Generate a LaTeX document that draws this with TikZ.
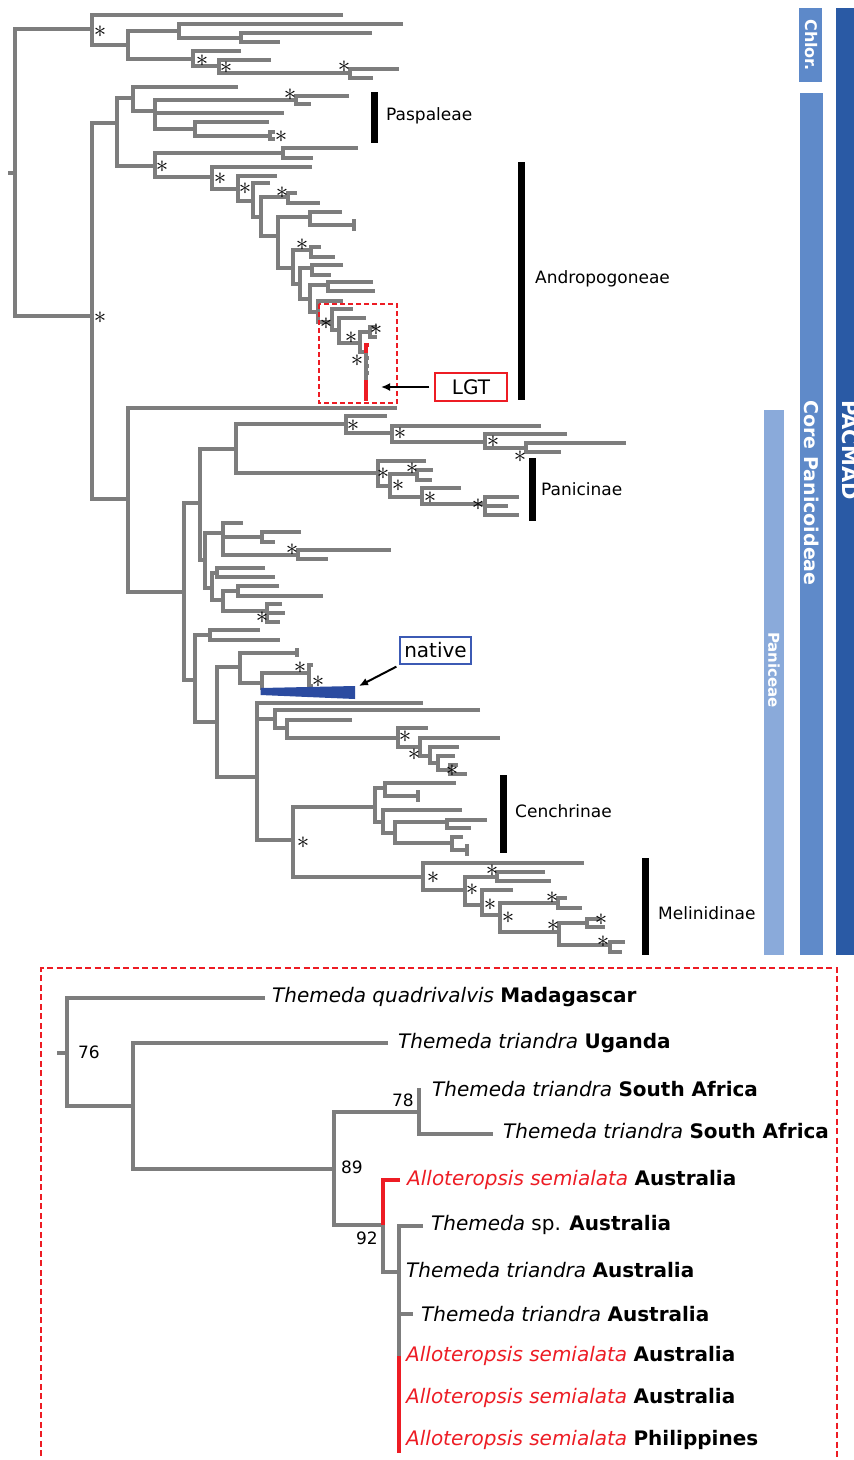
\documentclass[tikz,border=0pt]{standalone}
\usepackage{fontspec}
\setmainfont{DejaVu Sans}
\usetikzlibrary{arrows.meta}
\definecolor{treegray}{RGB}{125,125,125}
\definecolor{redc}{RGB}{237,28,36}
\definecolor{nativeblue}{RGB}{43,75,160}
\definecolor{boxblue}{RGB}{60,90,180}
\definecolor{chlorc}{RGB}{93,137,201}
\definecolor{corec}{RGB}{95,138,201}
\definecolor{panc}{RGB}{138,170,218}
\definecolor{pacc}{RGB}{42,90,165}
\newcounter{stc}
\newcommand\clade[5]{\draw[tree] (#3,#2) -- (#1,#2) -- (#1,#4) -- (#5,#4);}
\newcommand\tipb[3]{\draw[tree] (#1,#2) -- (#3,#2);}
\newcommand\st[2]{\stepcounter{stc}\node[ast] (st\arabic{stc}) at (#1,#2) {$\ast$};}
\newcommand\fs[1]{\fontsize{#1}{#1}\selectfont}
\tikzset{
  tree/.style={draw=treegray, line width=3.7pt, line join=miter, line cap=butt},
  treeb/.style={draw=treegray, line width=3.1pt, line join=miter, line cap=butt},
  redb/.style={draw=redc, line width=3.1pt, line join=miter, line cap=butt},
  ast/.style={inner sep=0pt, font=\fs{25}},
  clbar/.style={draw=black, line width=7pt},
  cllab/.style={anchor=west, inner sep=0pt, font=\fs{17}},
  sidebar/.style={inner sep=0pt, text=white, font=\bfseries, rotate=-90},
  taxon/.style={anchor=west, inner sep=0pt, font=\fs{20}},
  supp/.style={inner sep=0pt, font=\fs{17}},
  arr/.style={draw=black, line width=2pt, -{Latex[length=9pt,width=8pt]}},
}
\begin{document}
\begin{tikzpicture}[x=1pt,y=-1pt]
\useasboundingbox (0,0) rectangle (854,1460);
\clip (0,0) rectangle (854,1460);
% ---------------- upper tree ----------------
\tipb{8}{173}{15}
\clade{15}{29}{92}{316}{92}
% Chloridoideae
\clade{92}{15}{343}{45}{128}
\clade{128}{31}{179}{59}{193}
\clade{179}{24}{403}{38}{241}
\clade{241}{33}{372}{42}{280}
\clade{193}{51}{241}{66}{219}
\clade{219}{60}{271}{73}{350}
\clade{350}{69}{399}{78}{373}
\st{100}{32}\st{202}{61}\st{226}{68}\st{344}{67}
% Core Panicoideae
\clade{92}{123}{117}{499}{128}
\st{100}{318}
\clade{117}{98}{133}{166}{155}
% Paspaleae
\clade{133}{87}{238}{111}{155}
\clade{155}{100}{296}{129}{195}
\tipb{155}{113}{284}
\clade{296}{96}{349}{104}{311}
\clade{195}{122}{269}{136}{270}
\clade{270}{132}{275}{139}{275}
\st{290}{95}\st{281}{137}
% Andropogoneae
\clade{155}{153}{283}{177}{212}
\clade{283}{148}{358}{158}{313}
\clade{212}{167}{312}{189}{238}
\clade{238}{176}{277}{201}{253}
\clade{253}{183}{270}{217}{261}
\clade{261}{197}{288}{236}{278}
\clade{288}{193}{297}{203}{320}
\clade{278}{217}{310}{268}{293}
\clade{310}{212}{342}{225}{354}
\draw[tree] (354,219) -- (354,231);
\clade{293}{250}{311}{284}{300}
\clade{311}{247}{321}{257}{335}
\clade{300}{268}{312}{299}{310}
\clade{312}{265}{343}{275}{331}
\clade{310}{285}{328}{312}{318}
\clade{328}{282}{373}{291}{375}
\clade{318}{301}{343}{322}{332}
\clade{332}{309}{353}{330}{339}
\clade{339}{318}{366}{343}{360}
\clade{360}{332}{370}{352}{366}
\clade{370}{327}{377}{337}{377}
\draw[tree] (366,352) -- (366,380);
\draw[tree] (366,358) -- (369,358);
\draw[tree] (366,366) -- (369,366);
\draw[tree] (366,373) -- (369,373);
\draw[redb,line width=3.7pt] (366,380) -- (366,401);
\draw[redb,line width=3.7pt] (369,345) -- (366,345) -- (366,353);
\st{162}{167}\st{220}{179}\st{245}{189}\st{282}{193}\st{302}{245}
\st{326}{324}\st{351}{338}\st{376}{330}\st{357}{361}
\draw[redc, line width=1.4pt, dash pattern=on 5pt off 3pt] (319,304) rectangle (397,403);
% Paniceae
\clade{128}{408}{397}{592}{184}
\clade{184}{503}{200}{680}{195}
\clade{200}{449}{236}{560}{205}
% Panicinae
\clade{236}{424}{346}{473}{378}
\clade{346}{416}{387}{433}{392}
\clade{392}{426}{541}{442}{485}
\clade{485}{434}{567}{448}{526}
\clade{526}{443}{626}{452}{561}
\clade{378}{461}{426}{486}{390}
\clade{390}{474}{417}{497}{422}
\clade{417}{470}{433}{480}{432}
\clade{422}{488}{461}{504}{485}
\clade{485}{497}{519}{515}{519}
\tipb{485}{506}{508}
\st{353}{426}\st{400}{434}\st{493}{442}\st{520}{457}\st{383}{474}
\st{412}{469}\st{398}{486}\st{430}{498}\st{478}{505}
% next group
\clade{205}{533}{223}{588}{212}
\clade{223}{523}{243}{555}{298}
\tipb{223}{537}{262}
\clade{262}{532}{301}{542}{275}
\clade{298}{550}{391}{559}{328}
\clade{212}{573}{217}{600}{223}
\clade{217}{568}{265}{577}{275}
\clade{223}{591}{238}{611}{267}
\clade{238}{586}{279}{596}{323}
\clade{267}{604}{282}{622}{280}
\tipb{267}{613}{285}
\st{292}{550}\st{262}{618}
% native group
\clade{195}{635}{210}{722}{217}
\clade{210}{630}{260}{640}{280}
\clade{217}{667}{240}{777}{257}
\clade{240}{653}{297}{683}{262}
\draw[tree] (297,648) -- (297,657);
\draw[tree] (309,673) -- (262,673) -- (262,690);
\draw[tree] (313,665) -- (309,665) -- (309,686) -- (313,686);
\fill[nativeblue] (260.5,688) -- (355,686) -- (355,699) -- (260.5,695) -- cycle;
\st{300}{668}\st{318}{682}
% lower Paniceae
\clade{257}{703}{423}{840}{293}
\tipb{257}{719}{275}
\clade{275}{710}{480}{728}{287}
\clade{287}{720}{352}{738}{398}
\clade{398}{728}{428}{747}{420}
\clade{420}{738}{500}{756}{430}
\clade{430}{747}{459}{763}{438}
\clade{438}{756}{455}{770}{450}
\clade{450}{765}{458}{774}{467}
\st{405}{737}\st{414}{755}\st{452}{771}
\clade{293}{807}{375}{877}{423}
\st{303}{843}
% Cenchrinae
\clade{375}{788}{385}{822}{383}
\clade{385}{783}{456}{796}{418}
\draw[tree] (418,790) -- (418,802);
\clade{383}{810}{462}{833}{395}
\clade{395}{822}{447}{843}{452}
\clade{447}{820}{487}{828}{471}
\clade{452}{837}{463}{850}{467}
\draw[tree] (467,844) -- (467,856);
% Melinidinae
\clade{423}{863}{584}{890}{465}
\clade{465}{877}{497}{905}{482}
\clade{497}{872}{545}{881}{551}
\clade{482}{890}{513}{915}{500}
\clade{500}{903}{558}{932}{559}
\clade{558}{898}{567}{908}{582}
\clade{559}{923}{587}{945}{610}
\clade{587}{919}{600}{927}{605}
\clade{610}{942}{625}{952}{622}
\st{433}{878}\st{492}{871}\st{472}{890}\st{490}{905}\st{508}{918}
\st{552}{898}\st{553}{926}\st{601}{920}\st{603}{942}
% clade bars
\draw[clbar] (374,92) -- (374,143);
\node[cllab] (lpas) at (386,116) {Paspaleae};
\draw[clbar] (521,162) -- (521,400);
\node[cllab] (land) at (535,279) {Andropogoneae};
\draw[clbar] (532,458) -- (532,521);
\node[cllab] (lpan) at (541,489) {Panicinae};
\draw[clbar] (503,775) -- (503,853);
\node[cllab] (lcen) at (515,811) {Cenchrinae};
\draw[clbar] (645,858) -- (645,955);
\node[cllab] (lmel) at (658,913) {Melinidinae};
% LGT / native labels
\node[draw=redc, line width=1.3pt, minimum width=72pt, minimum height=28pt, inner sep=0pt, font=\fs{20}] (lgt) at (471,387) {LGT};
\coordinate (lgttip) at (381,387);
\draw[arr] ([xshift=-5pt]lgt.west) -- (lgttip);
\node[draw=boxblue, line width=1.3pt, minimum width=71pt, minimum height=27pt, inner sep=0pt, font=\fs{20}] (nat) at (435.5,650.5) {native};
\coordinate (nattip) at (359,686);
\draw[arr] ([shift={(-3,2)}]nat.south west) -- (nattip);
% side bars
\fill[chlorc] (799,8) rectangle (822,82);
\node[sidebar, font=\bfseries\fs{16}] (tchl) at (811,45) {Chlor.};
\fill[corec] (800,93) rectangle (823,955);
\node[sidebar, font=\bfseries\fs{19}] (tcore) at (811.5,493) {Core Panicoideae};
\fill[panc] (764,410) rectangle (784,955);
\node[sidebar, font=\bfseries\fs{15}] (tpan) at (774,670) {Paniceae};
\fill[pacc] (836,8) rectangle (870,955);
\node[sidebar, font=\bfseries\fs{21}] (tpac) at (850,450) {PACMAD};
% ---------------- lower panel ----------------
\draw[redc, line width=1.4pt, dash pattern=on 6pt off 3.5pt] (41,1475) -- (41,968) -- (837,968) -- (837,1475);
\draw[treeb] (57,1053) -- (67,1053);
\draw[treeb] (265,998) -- (67,998) -- (67,1106) -- (133,1106);
\draw[treeb] (388,1043) -- (133,1043) -- (133,1169) -- (334,1169);
\draw[treeb] (419,1112) -- (334,1112) -- (334,1225) -- (383,1225);
\draw[treeb] (419,1088) -- (419,1134) -- (493,1134);
\draw[redb] (400,1180) -- (383,1180) -- (383,1226);
\draw[treeb] (383,1225) -- (383,1272) -- (399,1272);
\draw[treeb] (423,1226) -- (399,1226) -- (399,1358);
\draw[treeb] (399,1314) -- (413,1314);
\draw[redb] (399,1356) -- (399,1453);
\node[supp] (b76) at (89,1052) {76};
\node[supp] (b89) at (352,1167) {89};
\node[supp] (b78) at (403,1100) {78};
\node[supp] (b92) at (367,1238) {92};
\node[taxon] (t1) at (272,997) {\textit{Themeda quadrivalvis} \textbf{Madagascar}};
\node[taxon] (t2) at (398,1043) {\textit{Themeda triandra} \textbf{Uganda}};
\node[taxon] (t3) at (432,1089) {\textit{Themeda triandra} \textbf{South Africa}};
\node[taxon] (t4) at (503,1131) {\textit{Themeda triandra} \textbf{South Africa}};
\node[taxon] (t5) at (407,1180) {\textcolor{redc}{\textit{Alloteropsis semialata}} \textbf{Australia}};
\node[taxon] (t6) at (431,1225) {\textit{Themeda} sp. \textbf{Australia}};
\node[taxon] (t7) at (406,1270) {\textit{Themeda triandra} \textbf{Australia}};
\node[taxon] (t8) at (421,1314) {\textit{Themeda triandra} \textbf{Australia}};
\node[taxon] (t9) at (406,1356) {\textcolor{redc}{\textit{Alloteropsis semialata}} \textbf{Australia}};
\node[taxon] (t10) at (406,1398) {\textcolor{redc}{\textit{Alloteropsis semialata}} \textbf{Australia}};
\node[taxon] (t11) at (406,1440) {\textcolor{redc}{\textit{Alloteropsis semialata}} \textbf{Philippines}};
\end{tikzpicture}
\end{document}
